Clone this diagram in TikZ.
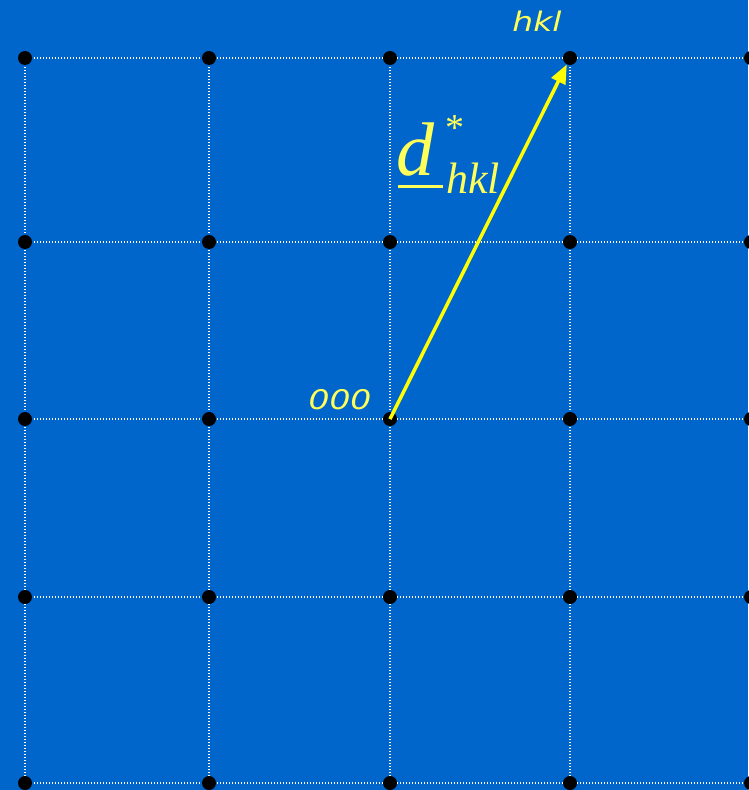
\documentclass[tikz,border=0pt]{standalone}
\usepackage{fontspec}
\setmainfont{Liberation Serif}
\newfontfamily\lblfont{DejaVu Sans}
\usetikzlibrary{arrows.meta}
\definecolor{bg}{RGB}{0,102,204}
\definecolor{arrowyellow}{RGB}{255,255,0}
\definecolor{txtyellow}{RGB}{255,255,90}
\begin{document}
\begin{tikzpicture}[x=1pt,y=-1pt,
  latt/.style={circle,fill=black,inner sep=0pt,minimum size=14pt},
  gridline/.style={white,line width=1.1pt,dash pattern=on 1.1pt off 1.9pt},
  vec/.style={arrowyellow,line width=3.5pt,-{Triangle[length=19pt,width=15pt]}},
  lbl/.style={txtyellow,font=\lblfont\itshape\fontsize{27}{27}\selectfont,inner sep=0pt,xscale=1.22},
  serif/.style={txtyellow,inner sep=0pt}]
\fill[bg] (0,0) rectangle (748,790);
\useasboundingbox (0,0) rectangle (748,790);
\foreach \i/\x in {0/25,1/209,2/390,3/570,4/751}
 \foreach \j/\y in {0/58,1/242,2/419,3/597,4/783}
  \coordinate (c\i\j) at (\x,\y);
\foreach \j in {0,...,4} \draw[gridline] (c0\j) -- (c4\j);
\foreach \i in {0,...,4} \draw[gridline] (c\i0) -- (c\i4);
\foreach \i in {0,...,4}
 \foreach \j in {0,...,4}
  \node[latt] (p\i\j) at (c\i\j) {};
\draw[vec] (p22.center) -- (p30);
\node[lbl,anchor=base] (hkl) at (537,31) {hkl};
\node[lbl,anchor=base] (origin) at (340,409) {000};
\node[serif,anchor=base west,font=\itshape\fontsize{76}{76}\selectfont] (d) at (396,175) {d};
\draw[txtyellow,line width=3pt] (398,186) -- (443,186);
\node[serif,anchor=base west,font=\fontsize{38}{38}\selectfont] (dstar) at (445,140) {*};
\node[serif,anchor=base west,font=\itshape\fontsize{44}{44}\selectfont] (dsub) at (446,193) {hkl};
\end{tikzpicture}
\end{document}
